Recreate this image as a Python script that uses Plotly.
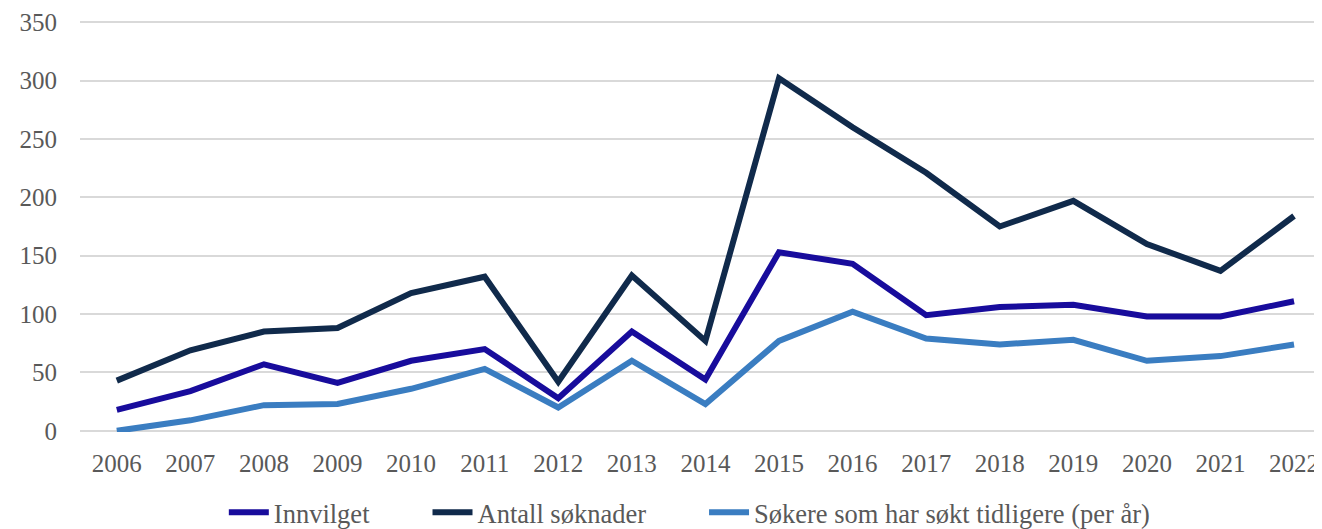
import plotly.graph_objects as go

years = [str(y) for y in range(2006, 2023)]
innvilget = [18, 34, 57, 41, 60, 70, 28, 85, 44, 153, 143, 99, 106, 108, 98, 98, 111]
antall_soknader = [43, 69, 85, 88, 118, 132, 42, 133, 77, 302, 260, 221, 175, 197, 160, 137, 184]
sokere_tidligere = [0, 9, 22, 23, 36, 53, 20, 60, 23, 77, 102, 79, 74, 78, 60, 64, 74]
y_ticks = [0, 50, 100, 150, 200, 250, 300, 350]

pad = "\u00a0" * 8
series = [
    ("Innvilget" + pad, innvilget, "#180C9C"),
    ("Antall søknader" + pad, antall_soknader, "#102A4B"),
    ("Søkere som har søkt tidligere (per år)", sokere_tidligere, "#3A7DC1"),
]

fig = go.Figure()
for name, vals, col in series:
    fig.add_trace(go.Scatter(
        x=years, y=vals, name=name, mode="lines",
        line=dict(color=col, width=6),
    ))

font = "Liberation Serif"
fig.update_layout(
    width=1314, height=521,
    margin=dict(l=72, r=0, t=13, b=97, autoexpand=False),
    paper_bgcolor="white", plot_bgcolor="white",
    font=dict(family=font, size=25, color="#595959"),
    showlegend=True,
    legend=dict(orientation="h", x=0.491, xanchor="center", y=-0.196, yanchor="middle",
                font=dict(family=font, size=26.5, color="#595959"),
                itemwidth=40, tracegroupgap=0),
    xaxis=dict(type="category", range=[-0.5, 16.38], showgrid=False, showline=False,
               ticks="", automargin=False, ticklabelstandoff=14,
               tickfont=dict(family=font, size=25, color="#595959")),
    yaxis=dict(range=[-1, 351], tickvals=y_ticks, showgrid=True, gridcolor="#D9D9D9",
               gridwidth=2, zeroline=False, showline=False, ticks="", automargin=False,
               ticklabelstandoff=22, tickfont=dict(family=font, size=25, color="#595959")),
)
fig.write_html("out.html")
